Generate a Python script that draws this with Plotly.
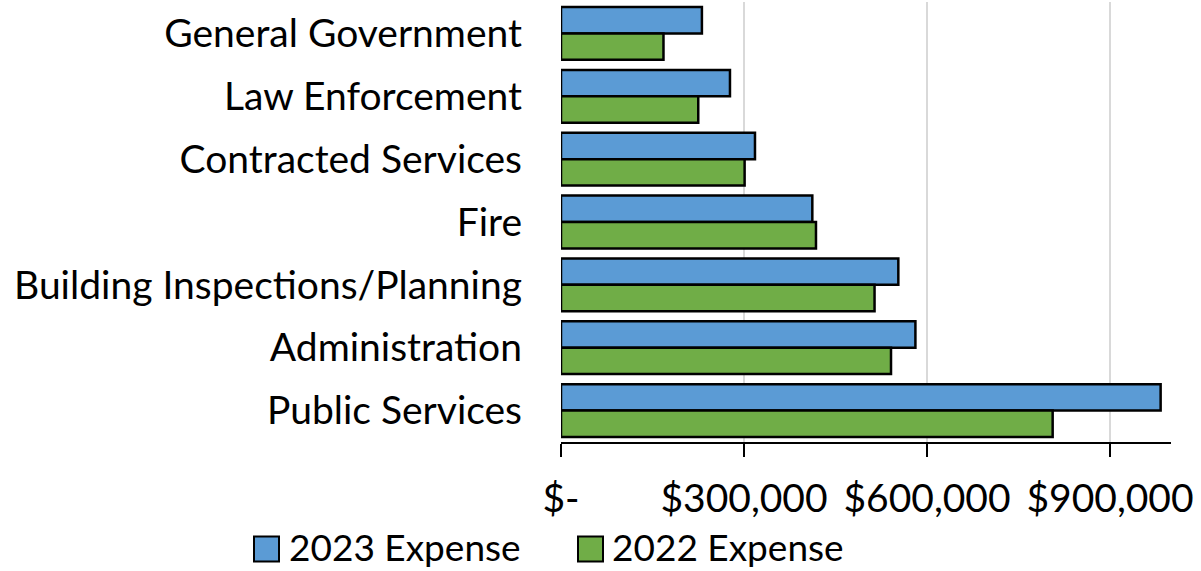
import plotly.graph_objects as go

categories = ["General Government", "Law Enforcement", "Contracted Services", "Fire",
              "Building Inspections/Planning", "Administration", "Public Services"]
expense_2023 = [231000, 277000, 318000, 412000, 553000, 581000, 983000]
expense_2022 = [168000, 225000, 301000, 418000, 514000, 541000, 806000]
series_names = ["2023 Expense", "2022 Expense"]
series_colors = ["#5B9BD5", "#70AD47"]
tick_values = [0, 300000, 600000, 900000]
tick_labels = ["$-", "$300,000", "$600,000", "$900,000"]

FONT = "Lato"
W, H = 1201, 571
ML, MR, MT, MB = 561, 30, 2, 129
PW, PH = W - ML - MR, H - MT - MB


def px_to_paper(x, y):
    return (x - ML) / PW, (H - MB - y) / PH


fig = go.Figure()
for name, vals, col in zip(series_names, [expense_2023, expense_2022], series_colors):
    fig.add_trace(go.Bar(y=categories, x=vals, orientation="h", name=name,
                         marker=dict(color=col, line=dict(color="black", width=2.5))))

# custom legend (layout decoration)
legend_items = [(254, 288), (578, 611)]
sq = 25
cy = 546
for (sx, tx), name, col in zip(legend_items, series_names, series_colors):
    x0, y0 = px_to_paper(sx, cy + sq / 2 + 3)
    x1, y1 = px_to_paper(sx + sq, cy - sq / 2 + 3)
    fig.add_shape(type="rect", xref="paper", yref="paper", x0=x0, x1=x1, y0=y0, y1=y1,
                  fillcolor=col, line=dict(color="black", width=2))
    ax, ay = px_to_paper(tx, cy)
    fig.add_annotation(xref="paper", yref="paper", x=ax, y=ay, xanchor="left", yanchor="middle",
                       text=name, showarrow=False, borderpad=0,
                       font=dict(family=FONT, size=37, color="black"))

fig.update_layout(
    width=W, height=H,
    margin=dict(l=ML, r=MR, t=MT, b=MB),
    paper_bgcolor="white", plot_bgcolor="white",
    barmode="group", bargap=0.16, bargroupgap=0,
    font=dict(family=FONT, size=39, color="black"),
    showlegend=False,
    xaxis=dict(range=[0, 1000000], tickvals=tick_values, ticktext=tick_labels,
               showgrid=True, gridcolor="#D9D9D9", gridwidth=1.5,
               showline=True, linecolor="black", linewidth=2,
               ticks="outside", ticklen=13, tickwidth=2, tickcolor="black",
               zeroline=False, tickfont=dict(size=39), automargin=False,
               ticklabelstandoff=8),
    yaxis=dict(autorange="reversed", showgrid=False, showline=False, ticks="",
               ticklabelstandoff=38, tickfont=dict(size=39), automargin=False),
)

fig.write_html("out.html", config={"displayModeBar": False},
               post_script="document.body.style.margin='0';document.body.style.overflow='hidden';")
